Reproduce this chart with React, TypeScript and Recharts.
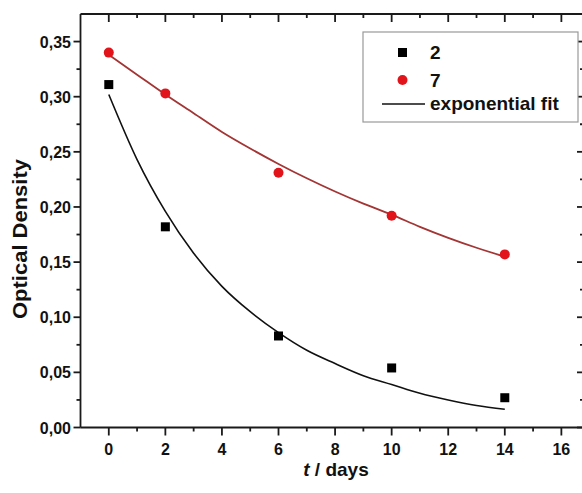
import {
  ComposedChart,
  Line,
  Scatter,
  XAxis,
  YAxis,
} from "recharts";

// measured points (t in days, optical density)
const DAYS = [0, 2, 6, 10, 14];
const OD_2 = [0.311, 0.182, 0.083, 0.054, 0.027];
const OD_7 = [0.34, 0.303, 0.231, 0.192, 0.157];

// exponential fit curves
const FIT_DAYS = [0, 1, 2, 3, 4, 5, 6, 7, 8, 9, 10, 11, 12, 13, 14];
const FIT_2 = [0.302, 0.243, 0.196, 0.158, 0.128, 0.105, 0.086, 0.07, 0.058, 0.047, 0.039, 0.031, 0.025, 0.02, 0.0165];
const FIT_7 = [0.338, 0.32, 0.302, 0.285, 0.268, 0.253, 0.239, 0.226, 0.214, 0.203, 0.193, 0.182, 0.172, 0.163, 0.155];

const X_TICKS = [0, 1, 2, 3, 4, 5, 6, 7, 8, 9, 10, 11, 12, 13, 14, 15, 16];
const Y_TICKS = [0, 0.025, 0.05, 0.075, 0.1, 0.125, 0.15, 0.175, 0.2, 0.225, 0.25, 0.275, 0.3, 0.325, 0.35];

const LEGEND_LABELS = ["2", "7", "exponential fit"];

const FONT = "'Liberation Sans', Arial, sans-serif";
const AXIS = "#1a1a1a";

const pts = (xs: number[], ys: number[]) => xs.map((x, i) => ({ x, y: ys[i] }));
const isMajorY = (v: number) => Math.round(v * 1000) % 50 === 0;
const fmtY = (v: number) => v.toFixed(2).replace(".", ",");

const BottomTick = (p: any) => {
  const v = p.payload.value;
  const major = v % 2 === 0;
  return (
    <g>
      <line x1={p.x} x2={p.x} y1={p.y} y2={p.y + (major ? 8 : 4)} stroke={AXIS} strokeWidth={1.8} />
      {major && (
        <text x={p.x} y={p.y + 27} textAnchor="middle" fontSize={16} fontWeight="bold" fontFamily={FONT} fill="#111">
          {v}
        </text>
      )}
    </g>
  );
};

const TopTick = (p: any) => {
  const major = p.payload.value % 2 === 0;
  return <line x1={p.x} x2={p.x} y1={p.y} y2={p.y + (major ? 8 : 4)} stroke={AXIS} strokeWidth={1.8} />;
};

const LeftTick = (p: any) => {
  const v = p.payload.value;
  const major = isMajorY(v);
  return (
    <g>
      <line x1={p.x - (major ? 7 : 4)} x2={p.x} y1={p.y} y2={p.y} stroke={AXIS} strokeWidth={1.8} />
      {major && (
        <text x={p.x - 9.5} y={p.y + 6} textAnchor="end" fontSize={16} fontWeight="bold" fontFamily={FONT} fill="#111">
          {fmtY(v)}
        </text>
      )}
    </g>
  );
};

const RightTick = (p: any) => {
  const major = isMajorY(p.payload.value);
  return <line x1={p.x - (major ? 7 : 4)} x2={p.x} y1={p.y} y2={p.y} stroke={AXIS} strokeWidth={1.8} />;
};

const Square = (p: any) => <rect x={p.cx - 4.5} y={p.cy - 4.5} width={9} height={9} fill="#000" />;
const Dot = (p: any) => <circle cx={p.cx} cy={p.cy} r={5} fill="#e0141a" />;

export default function App() {
  return (
    <div style={{ position: "absolute", left: 0, top: 0, width: 582, height: 493, overflow: "hidden", background: "#fff" }}>
      <ComposedChart width={586} height={493} margin={{ top: 0, right: 0, bottom: 0, left: 0 }}>
        <XAxis
          dataKey="x"
          type="number"
          domain={[-1, 16.8]}
          ticks={X_TICKS}
          interval={0}
          height={65.5}
          tickSize={0}
          tickMargin={0}
          tickLine={false}
          tick={BottomTick}
          axisLine={{ stroke: AXIS, strokeWidth: 1.8 }}
          allowDataOverflow
        />
        <XAxis
          xAxisId="top"
          orientation="top"
          dataKey="x"
          type="number"
          domain={[-1, 16.8]}
          ticks={X_TICKS}
          interval={0}
          height={14}
          tickSize={0}
          tickMargin={0}
          tickLine={false}
          tick={TopTick}
          axisLine={{ stroke: AXIS, strokeWidth: 1.8 }}
          allowDataOverflow
        />
        <YAxis
          dataKey="y"
          type="number"
          domain={[0, 0.375]}
          ticks={Y_TICKS}
          interval={0}
          width={80.5}
          tickSize={0}
          tickMargin={0}
          tickLine={false}
          tick={LeftTick}
          axisLine={{ stroke: AXIS, strokeWidth: 1.8 }}
          allowDataOverflow
        />
        <YAxis
          yAxisId="right"
          orientation="right"
          dataKey="y"
          type="number"
          domain={[0, 0.375]}
          ticks={Y_TICKS}
          interval={0}
          width={2}
          tickSize={0}
          tickMargin={0}
          tickLine={false}
          tick={RightTick}
          axisLine={{ stroke: AXIS, strokeWidth: 1.8 }}
          allowDataOverflow
        />
        <Line
          data={pts(FIT_DAYS, FIT_2)}
          dataKey="y"
          type="monotone"
          stroke="#111"
          strokeWidth={1.6}
          dot={false}
          isAnimationActive={false}
        />
        <Line
          data={pts(FIT_DAYS, FIT_7)}
          dataKey="y"
          type="monotone"
          stroke="#a33535"
          strokeWidth={1.8}
          dot={false}
          isAnimationActive={false}
        />
        <Scatter data={pts(DAYS, OD_2)} dataKey="y" shape={Square} isAnimationActive={false} />
        <Scatter data={pts(DAYS, OD_7)} dataKey="y" shape={Dot} isAnimationActive={false} />
      </ComposedChart>

      <svg width={582} height={493} style={{ position: "absolute", left: 0, top: 0, pointerEvents: "none" }}>
        <text
          transform="translate(27 239) rotate(-90)"
          textAnchor="middle"
          fontSize={20}
          fontWeight="bold"
          fontFamily={FONT}
          fill="#111"
          textLength={160}
          lengthAdjust="spacingAndGlyphs"
        >
          Optical Density
        </text>
        <text x={336} y={476} textAnchor="middle" fontSize={19} fontWeight="bold" fontFamily={FONT} fill="#111">
          <tspan fontStyle="italic">t</tspan> / days
        </text>

        <rect x={363} y={32} width={215} height={90} fill="#fff" stroke="#999" strokeWidth={1.2} />
        <rect x={398} y={48} width={9} height={9} fill="#000" />
        <text x={430} y={59} fontSize={19} fontWeight="bold" fontFamily={FONT} fill="#111">
          {LEGEND_LABELS[0]}
        </text>
        <circle cx={402.5} cy={80} r={5} fill="#e0141a" />
        <text x={430} y={87} fontSize={19} fontWeight="bold" fontFamily={FONT} fill="#111">
          {LEGEND_LABELS[1]}
        </text>
        <line x1={382} x2={425} y1={104} y2={104} stroke="#111" strokeWidth={1.6} />
        <text x={430} y={110} fontSize={19} fontWeight="bold" fontFamily={FONT} fill="#111">
          {LEGEND_LABELS[2]}
        </text>
      </svg>
    </div>
  );
}
